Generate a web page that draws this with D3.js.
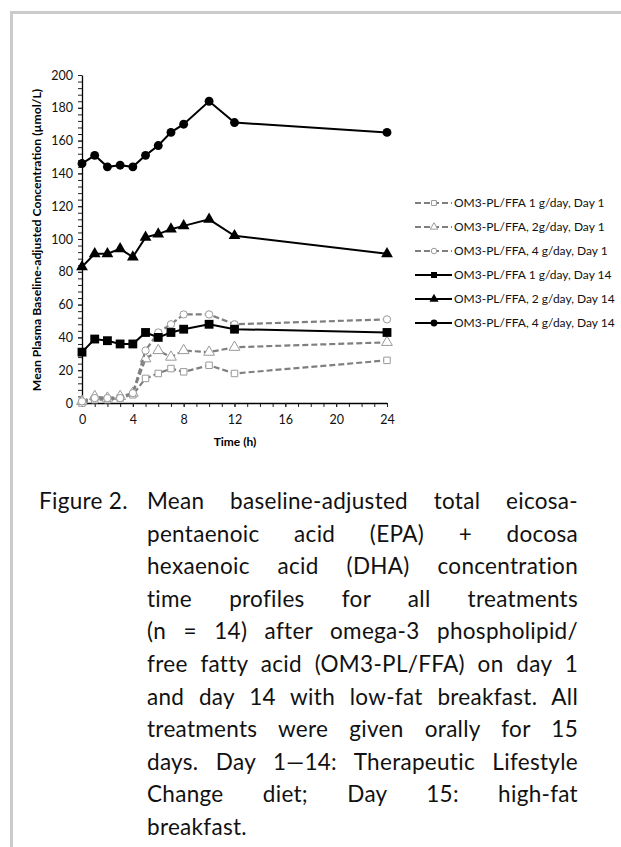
<!DOCTYPE html>
<html>
<head>
<meta charset="utf-8">
<script src="https://cdn.jsdelivr.net/npm/d3@7"></script>
<style>
  body { margin: 0; background: #fff; }
  #page { position: relative; width: 621px; height: 847px; overflow: hidden; }
  #frame { position: absolute; left: 10px; top: 11px; width: 700px; height: 900px;
           border-top: 3px solid #cbcbcb; border-left: 3px solid #cbcbcb; }
  svg { position: absolute; left: 0; top: 0; }
  .cap { position: absolute; font-family: Lato, sans-serif; font-size: 22.5px; color: #111;
         letter-spacing: 0.3px; line-height: 32.6px; }
  #capLabel { left: 39px; top: 485px; }
  #capBody { left: 147px; top: 485px; width: 431px; }
  #capBody div { text-align: justify; text-align-last: justify; white-space: nowrap; }
  #capBody div.last { text-align-last: left; }
</style>
</head>
<body>
<div id="page">
  <div id="frame"></div>
  <svg id="chart" width="621" height="470"></svg>
  <div class="cap" id="capLabel">Figure 2.</div>
  <div class="cap" id="capBody"></div>
</div>
<script>
// time points (h)
var times = [0, 1, 2, 3, 4, 5, 6, 7, 8, 10, 12, 24];

// day 1
var d1_1g = [0, 2, 2, 3, 5, 15, 18, 21, 19, 23, 18, 26];
var d1_2g = [1, 4, 3, 4, 6, 27, 32, 28, 32, 31, 34, 37];
var d1_4g = [1, 3, 3, 3, 6, 32, 43, 48, 54, 54, 48, 51];
// day 14
var d14_1g = [31, 39, 38, 36, 36, 43, 40, 43, 45, 48, 45, 43];
var d14_2g = [83, 91, 91, 94, 89, 101, 103, 106, 108, 112, 102, 91];
var d14_4g = [146, 151, 144, 145, 144, 151, 157, 165, 170, 184, 171, 165];

var names = [
  "OM3-PL/FFA 1 g/day, Day 1",
  "OM3-PL/FFA, 2g/day, Day 1",
  "OM3-PL/FFA, 4 g/day, Day 1",
  "OM3-PL/FFA 1 g/day, Day 14",
  "OM3-PL/FFA, 2 g/day, Day 14",
  "OM3-PL/FFA, 4 g/day, Day 14"
];

var xTicks = [0, 4, 8, 12, 16, 20, 24];
var yTicks = [0, 20, 40, 60, 80, 100, 120, 140, 160, 180, 200];

var captionLines = [
  "Mean baseline-adjusted total eicosa-",
  "pentaenoic acid (EPA) + docosa",
  "hexaenoic acid (DHA) concentration",
  "time profiles for all treatments",
  "(n = 14) after omega-3 phospholipid/",
  "free fatty acid (OM3-PL/FFA) on day 1",
  "and day 14 with low-fat breakfast. All",
  "treatments were given orally for 15",
  "days. Day 1\u201414: Therapeutic Lifestyle",
  "Change diet; Day 15: high-fat",
  "breakfast."
];

var series = [
  {name: names[0], values: d1_1g, day: 1, sym: d3.symbolSquare},
  {name: names[1], values: d1_2g, day: 1, sym: d3.symbolTriangle},
  {name: names[2], values: d1_4g, day: 1, sym: d3.symbolCircle},
  {name: names[3], values: d14_1g, day: 14, sym: d3.symbolSquare},
  {name: names[4], values: d14_2g, day: 14, sym: d3.symbolTriangle},
  {name: names[5], values: d14_4g, day: 14, sym: d3.symbolCircle}
];

var mLeft = 82, mRight = 387, mTop = 75, mBottom = 403;

var svg = d3.select("#chart");
var x = d3.scaleLinear().domain([0, 24]).range([mLeft, mRight]);
var y = d3.scaleLinear().domain([0, 200]).range([mBottom, mTop]);

var font = "Lato, sans-serif";

// minor ticks
svg.append("g").attr("transform", "translate(" + mLeft + ",0)")
  .call(d3.axisLeft(y).tickValues(d3.range(0, 201, 4)).tickSize(4).tickFormat(""))
  .call(function(g){ g.select(".domain").remove(); });
svg.append("g").attr("transform", "translate(0," + mBottom + ")")
  .call(d3.axisBottom(x).tickValues(d3.range(0, 25, 1)).tickSize(4).tickFormat(""))
  .call(function(g){ g.select(".domain").remove(); });

var yAxis = svg.append("g").attr("transform", "translate(" + mLeft + ",0)")
  .call(d3.axisLeft(y).tickValues(yTicks).tickSize(4).tickSizeOuter(0).tickPadding(5));
var xAxis = svg.append("g").attr("transform", "translate(0," + mBottom + ")")
  .call(d3.axisBottom(x).tickValues(xTicks).tickSize(4).tickSizeOuter(0).tickPadding(8));

[yAxis, xAxis].forEach(function(g){
  g.selectAll("text").style("font-family", font).style("font-size", "12.5px").attr("fill", "#111");
  g.select(".domain").attr("stroke-width", 1.3);
});
svg.selectAll(".tick line").attr("stroke", "#222");

svg.append("text").attr("x", 235).attr("y", 446).attr("text-anchor", "middle")
  .style("font-family", font).style("font-size", "12px").style("font-weight", "bold")
  .text("Time (h)");
svg.append("text").attr("transform", "translate(41,240) rotate(-90)").attr("text-anchor", "middle")
  .style("font-family", font).style("font-size", "12.2px").style("font-weight", "bold")
  .text("Mean Plasma Baseline-adjusted Concentration (\u00b5mol/L)");

var line = d3.line().x(function(d){ return x(d[0]); }).y(function(d){ return y(d[1]); });

function style(sel, s, marker) {
  if (s.day === 1) {
    sel.attr("stroke", marker ? "#9a9a9a" : "#7f7f7f").attr("fill", marker ? "#fff" : "none")
      .attr("stroke-width", marker ? 1 : 2.2);
    if (!marker) sel.attr("stroke-dasharray", "6,3");
  } else {
    sel.attr("stroke", "#000").attr("fill", marker ? "#000" : "none").attr("stroke-width", marker ? 0 : 2);
  }
}
function symSize(s) {
  if (s.day === 1) return s.sym === d3.symbolTriangle ? 50 : 42;
  return s.sym === d3.symbolCircle ? 62 : (s.sym === d3.symbolTriangle ? 60 : 78);
}

series.forEach(function(s){
  var pts = times.map(function(t, j){ return [t, s.values[j]]; });
  svg.append("path").datum(pts).attr("d", line).call(function(p){ style(p, s, false); });
  svg.append("g").selectAll("path").data(pts).enter().append("path")
    .attr("transform", function(d){ return "translate(" + x(d[0]) + "," + y(d[1]) + ")"; })
    .attr("d", d3.symbol().type(s.sym).size(symSize(s)))
    .call(function(p){ style(p, s, true); });
});

// legend
var lg = svg.append("g").attr("transform", "translate(415,203)");
var item = lg.selectAll("g").data(series).enter().append("g")
  .attr("transform", function(d, i){ return "translate(0," + (i * 24) + ")"; });
item.append("line").attr("x1", 0).attr("x2", 37).attr("y1", 0).attr("y2", 0)
  .each(function(d){ style(d3.select(this), d, false); });
item.append("path").attr("transform", "translate(19,0)")
  .attr("d", function(d){ return d3.symbol().type(d.sym).size(d.day === 1 ? 24 : 36)(); })
  .each(function(d){ style(d3.select(this), d, true); });
item.append("text").attr("x", 39).attr("dy", "0.35em")
  .style("font-family", font).style("font-size", "12px").attr("fill", "#111")
  .text(function(d){ return d.name; });

// caption
d3.select("#capBody").selectAll("div").data(captionLines).enter().append("div")
  .attr("class", function(d, i){ return i === captionLines.length - 1 ? "last" : null; })
  .text(function(d){ return d; });
</script>
</body>
</html>
